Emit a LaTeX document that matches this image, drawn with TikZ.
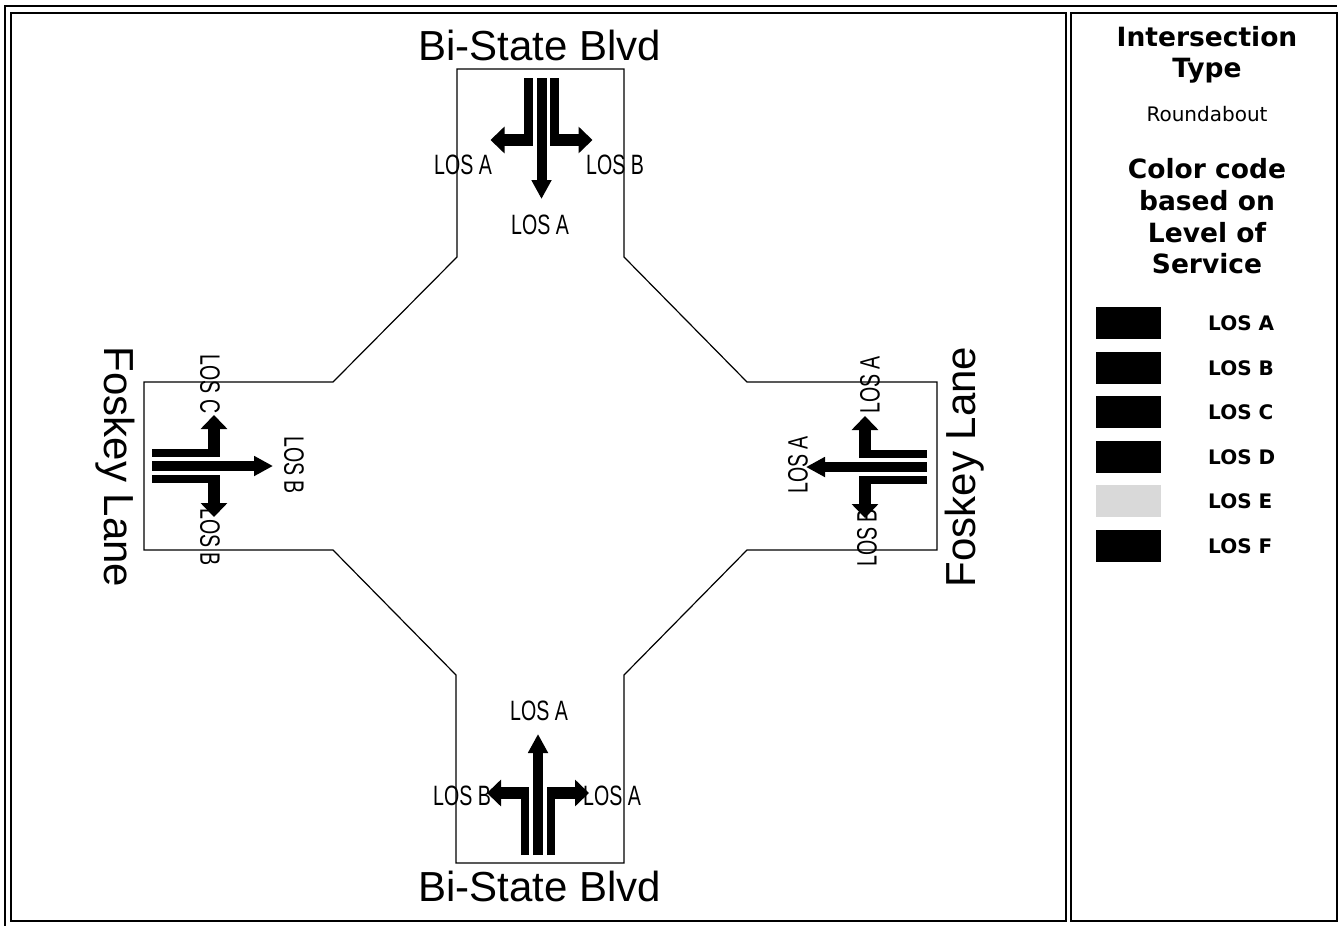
\documentclass[tikz,border=0pt]{standalone}
\usepackage{fontspec}
\setmainfont{Liberation Sans}
\newfontfamily\narrowfont[FakeStretch=0.7]{Liberation Sans}
\newfontfamily\legendfont{DejaVu Sans}
\usetikzlibrary{arrows.meta}
\tikzset{
  frameline/.style={draw=black, line width=2pt},
  road/.style={draw=black, line width=1.2pt, line join=miter},
  lanebar/.style={line width=8.5pt},
  thrubar/.style={line width=10pt, -{Triangle[length=19pt,width=19pt]}},
  turnbar/.style={line width=12.5pt, -{Triangle[length=14pt,width=26pt]}},
  los/.style={font=\narrowfont\fontsize{28}{30}\selectfont, inner sep=0pt},
  roadname/.style={font=\fontsize{42}{44}\selectfont, inner sep=0pt},
  legbold/.style={font=\legendfont\bfseries\fontsize{26.5}{28}\selectfont, inner sep=0pt, anchor=base},
  legreg/.style={font=\legendfont\fontsize{20}{22}\selectfont, inner sep=0pt, anchor=base},
  leglabel/.style={font=\legendfont\bfseries\fontsize{20}{22}\selectfont, inner sep=0pt, anchor=west},
  approach/.pic={
    \draw[lanebar] (-13,0) -- (-13,-68);
    \draw[lanebar] (13,0) -- (13,-68);
    \draw[thrubar] (0,0) -- (0,-121);
    \draw[turnbar] (-9,-62) -- (-51,-62);
    \draw[turnbar] (9,-62) -- (51,-62);
  }
}
\begin{document}
\begin{tikzpicture}[x=1pt,y=-1pt]
\useasboundingbox (0,0) rectangle (1339,926);
\fill[white] (0,0) rectangle (1339,926);
% frames
\draw[line width=1.5pt] (5,926) -- (5,6) -- (1337,6);
\draw[frameline] (11,13) rectangle (1066,921);
\draw[frameline] (1071,13) rectangle (1337,921);
% road outline
\draw[road] (457,69) -- (624,69) -- (624,257) -- (747,382) -- (937,382) -- (937,550)
  -- (747,550) -- (624,675) -- (624,863) -- (456,863) -- (456,675) -- (333,550)
  -- (144,550) -- (144,382) -- (333,382) -- (457,257) -- cycle;
% approaches
\pic at (538,855) {approach};
\pic[rotate=180] at (541.5,78) {approach};
\pic[rotate=-90] at (152,466) {approach};
\pic[rotate=90] at (927,467) {approach};
% road names
\node[roadname] (nameN) at (540,45) {Bi-State Blvd};
\node[roadname] (nameS) at (540,886) {Bi-State Blvd};
\node[roadname, rotate=-90, anchor=base] (nameW) at (104,467) {Foskey Lane};
\node[roadname, rotate=90, anchor=base] (nameE) at (975,467) {Foskey Lane};
% LOS labels top
\node[los] (tL) at (463,165) {LOS A};
\node[los] (tR) at (615,165) {LOS B};
\node[los] (tT) at (540,225) {LOS A};
% bottom
\node[los] (bT) at (539,711) {LOS A};
\node[los] (bL) at (462,796) {LOS B};
\node[los] (bR) at (612,796) {LOS A};
% left
\node[los, rotate=-90] (lU) at (210,384) {LOS C};
\node[los, rotate=-90] (lT) at (294,465) {LOS B};
\node[los, rotate=-90] (lD) at (210,537) {LOS B};
% right
\node[los, rotate=90] (rU) at (870,385) {LOS A};
\node[los, rotate=90] (rT) at (798,465) {LOS A};
\node[los, rotate=90] (rD) at (867,538) {LOS B};
% legend
\node[legbold] (h1) at (1207,46) {Intersection};
\node[legbold] (h2) at (1207,77) {Type};
\node[legreg] (h3) at (1207,121) {Roundabout};
\node[legbold] (c1) at (1207,178) {Color code};
\node[legbold] (c2) at (1207,210) {based on};
\node[legbold] (c3) at (1207,242) {Level of};
\node[legbold] (c4) at (1207,273) {Service};
\foreach \y/\t/\c in {323/A/black, 368/B/black, 412/C/black, 457/D/black, 501/E/gray!30, 546/F/black}{
  \fill[\c] (1096,\y-16) rectangle (1161,\y+16);
  \node[leglabel] (los\t) at (1208,\y) {LOS \t};
}
\end{tikzpicture}
\end{document}
